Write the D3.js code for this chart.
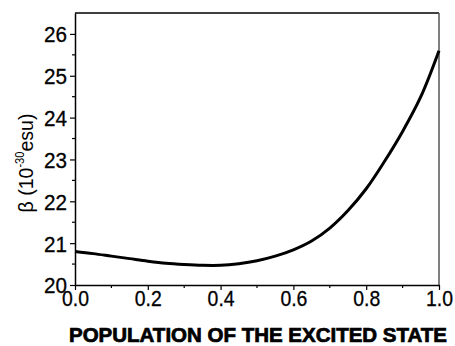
<!DOCTYPE html>
<html>
<head>
<meta charset="utf-8">
<script src="https://cdn.jsdelivr.net/npm/d3@7"></script>
<style>
  body { margin: 0; background: #fff; }
  text { font-family: "Liberation Sans", Arial, sans-serif; }
</style>
</head>
<body>
<div id="chart"></div>
<script>
//population of the excited state (x) and beta values (y)
var population = [0.0, 0.05, 0.1, 0.15, 0.2, 0.25, 0.3, 0.35, 0.4, 0.45, 0.5,
                  0.55, 0.6, 0.65, 0.7, 0.75, 0.8, 0.85, 0.9, 0.95, 1.0];
var beta = [20.80, 20.75, 20.69, 20.63, 20.57, 20.52, 20.49, 20.47, 20.47, 20.51, 20.58,
            20.69, 20.84, 21.05, 21.36, 21.78, 22.30, 22.95, 23.67, 24.50, 25.60];
var xTicks = [0.0, 0.2, 0.4, 0.6, 0.8, 1.0];
var yTicks = [20, 21, 22, 23, 24, 25, 26];

var W = 455, H = 346;
var margin = {top: 13, right: 16, bottom: 61, left: 75},
    width = W - margin.left - margin.right,
    height = H - margin.top - margin.bottom;

var svg = d3.select("#chart")
  .append("svg")
    .attr("width", W)
    .attr("height", H);
var g = svg.append("g")
    .attr("transform", "translate(" + margin.left + "," + margin.top + ")");

var x = d3.scaleLinear().domain([0, 1]).range([0, width]);
var y = d3.scaleLinear().domain([20, 26.5]).range([height, 0]);

//frame top and right
g.append("line").attr("x1", 0).attr("x2", width).attr("y1", 0).attr("y2", 0)
  .attr("stroke", "#000").attr("stroke-width", 1.5);
g.append("line").attr("x1", width).attr("x2", width).attr("y1", 0).attr("y2", height)
  .attr("stroke", "#555").attr("stroke-width", 1.5);

//minor ticks
var xMinor = d3.range(0.1, 1, 0.2);
g.selectAll(".xminor").data(xMinor).enter().append("line")
  .attr("x1", d => x(d)).attr("x2", d => x(d))
  .attr("y1", height).attr("y2", height + 3)
  .attr("stroke", "#000").attr("stroke-width", 1.2);
var yMinor = d3.range(20.5, 26.5, 1);
g.selectAll(".yminor").data(yMinor).enter().append("line")
  .attr("x1", -3).attr("x2", 0)
  .attr("y1", d => y(d)).attr("y2", d => y(d))
  .attr("stroke", "#000").attr("stroke-width", 1.2);

//x axis
var xAxis = g.append("g")
  .attr("transform", "translate(0," + height + ")")
  .call(d3.axisBottom(x).tickValues(xTicks).tickFormat(d3.format(".1f"))
        .tickSize(5).tickPadding(0).tickSizeOuter(0));
//y axis
var yAxis = g.append("g")
  .call(d3.axisLeft(y).tickValues(yTicks).tickFormat(d3.format("d"))
        .tickSize(5).tickPadding(3).tickSizeOuter(0));

[xAxis, yAxis].forEach(function(a) {
  a.select(".domain").attr("stroke-width", 1.5);
  a.selectAll(".tick line").attr("stroke-width", 1.2);
  a.selectAll(".tick text").attr("font-size", 22).attr("fill", "#000")
    .attr("stroke", "#000").attr("stroke-width", 0.3)
    .style("font-family", "'Liberation Sans', Arial, sans-serif")
    .attr("lengthAdjust", "spacingAndGlyphs");
});
xAxis.selectAll(".tick text").attr("textLength", 27);
yAxis.selectAll(".tick text").attr("dy", "0.36em").attr("textLength", 23);

//curve
g.append("path")
  .datum(population.map((p, i) => [p, beta[i]]))
  .attr("fill", "none")
  .attr("stroke", "#000")
  .attr("stroke-width", 3)
  .attr("d", d3.line().x(d => x(d[0])).y(d => y(d[1])).curve(d3.curveCatmullRom));

//x label
svg.append("text")
  .attr("x", 258)
  .attr("y", 342)
  .attr("text-anchor", "middle")
  .attr("font-size", 19.5)
  .attr("font-weight", "bold")
  .attr("stroke", "#000")
  .attr("stroke-width", 0.7)
  .attr("textLength", 378)
  .attr("lengthAdjust", "spacingAndGlyphs")
  .text("POPULATION OF THE EXCITED STATE");

//y label
var yl = svg.append("text")
  .attr("transform", "translate(33,163) rotate(-90)")
  .attr("text-anchor", "middle")
  .attr("font-size", 21)
  .attr("textLength", 99)
  .attr("lengthAdjust", "spacingAndGlyphs");
yl.append("tspan").text("\u03b2 (10");
yl.append("tspan").attr("font-size", 12).attr("dy", -9).text("-30");
yl.append("tspan").attr("dy", 9).text("esu)");
</script>
</body>
</html>
